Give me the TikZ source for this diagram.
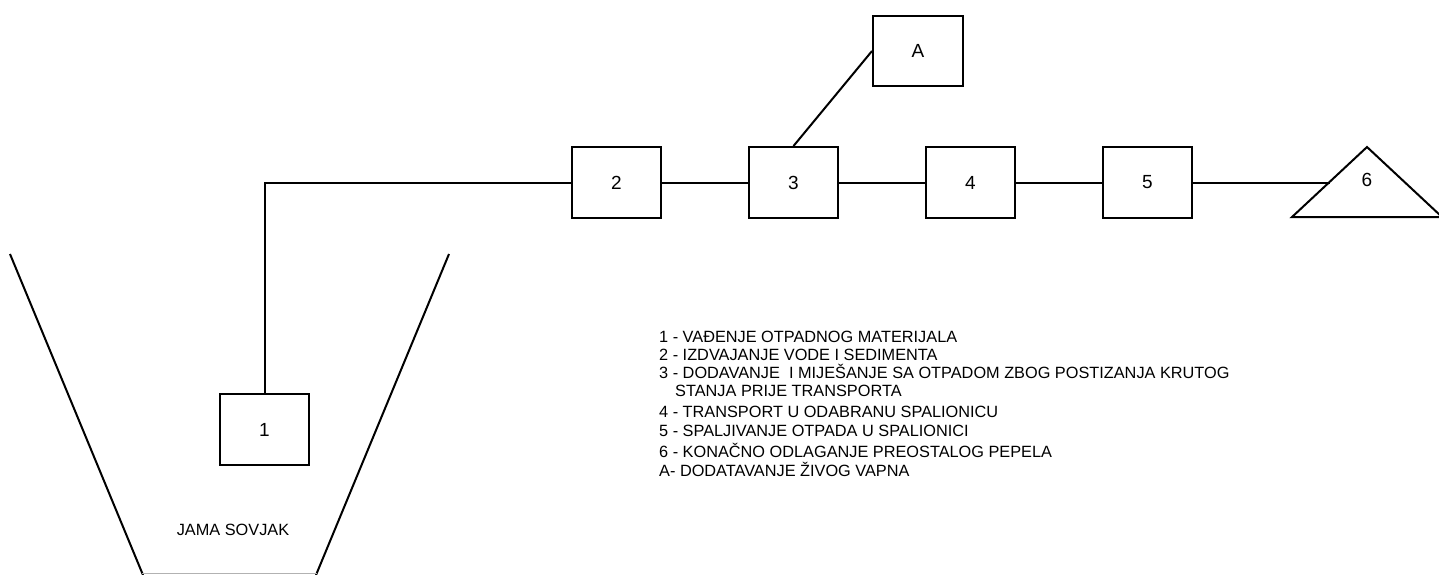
\documentclass[tikz,border=0pt]{standalone}
\usepackage{fontspec}
\setmainfont{Liberation Sans}
\begin{document}
\begin{tikzpicture}[x=1pt,y=-1pt,
  procbox/.style={draw, line width=2pt, minimum width=89pt, minimum height=71pt, inner sep=0pt, font=\fontsize{19}{22}\selectfont},
  conn/.style={line width=2pt},
  legend/.style={anchor=base west, inner sep=0pt, font=\fontsize{16.3}{18}\selectfont}]
\useasboundingbox (0,0) rectangle (1439,574);
% pit
\draw[conn] (10,254) -- (143,575);
\draw[conn] (449,254) -- (316,575);
\draw[line width=1pt, black!30] (142,573.5) -- (317,573.5);
\node[inner sep=0pt, font=\fontsize{16.3}{18}\selectfont] (pit) at (233,530) {JAMA SOVJAK};
% boxes
\node[procbox] (b1) at (264.5,429.5) {1};
\node[procbox] (b2) at (616.5,182.5) {2};
\node[procbox] (b3) at (793.5,182.5) {3};
\node[procbox] (b4) at (970.5,182.5) {4};
\node[procbox] (b5) at (1147.5,182.5) {5};
\node[procbox, minimum width=90pt, minimum height=70pt] (bA) at (918,51) {A};
% triangle
\draw[conn, line join=miter] (1292,217) -- (1367,147) -- (1442,217) -- cycle;
\node[inner sep=0pt, font=\fontsize{19}{22}\selectfont] (t6) at (1367,180) {6};
\coordinate (t6in) at (1329.5,182.5);
% connectors
\draw[conn] (b1.north) |- (b2.west);
\draw[conn] (b2.east) -- (b3.west);
\draw[conn] (b3.east) -- (b4.west);
\draw[conn] (b4.east) -- (b5.west);
\draw[conn] (b5.east) -- (t6in);
\draw[conn] (bA.west) -- (b3.north);
% legend
\node[legend] (l1) at (659,342.5) {1 - VAĐENJE OTPADNOG MATERIJALA};
\node[legend] (l2) at (659,360) {2 - IZDVAJANJE VODE I SEDIMENTA};
\node[legend] (l3) at (659,378) {3 - DODAVANJE\ \ I MIJEŠANJE SA OTPADOM ZBOG POSTIZANJA KRUTOG};
\node[legend] (l3b) at (675,396.5) {STANJA PRIJE TRANSPORTA};
\node[legend] (l4) at (659,417) {4 - TRANSPORT U ODABRANU SPALIONICU};
\node[legend] (l5) at (659,436) {5 - SPALJIVANJE OTPADA U SPALIONICI};
\node[legend] (l6) at (659,457) {6 - KONAČNO ODLAGANJE PREOSTALOG PEPELA};
\node[legend] (lA) at (659,476) {A- DODATAVANJE ŽIVOG VAPNA};
\end{tikzpicture}
\end{document}
